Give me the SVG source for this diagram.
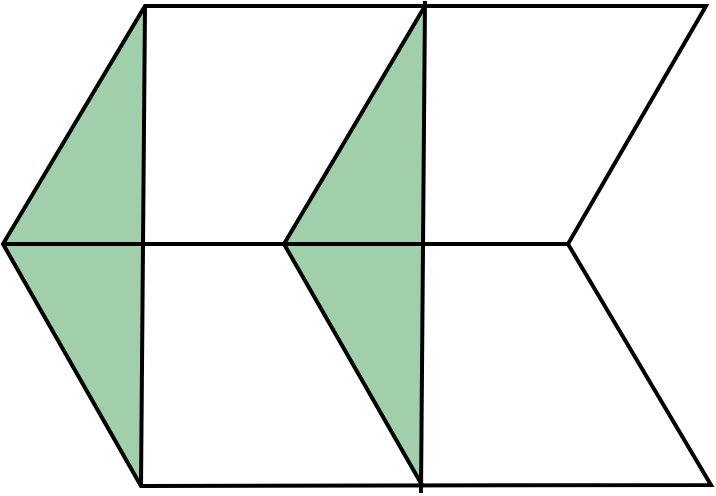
<svg xmlns="http://www.w3.org/2000/svg" width="716" height="496" viewBox="0 0 716 496">
<style>
.fill{fill:#a1cfab;stroke:none}
.ln{fill:none;stroke:#000;stroke-width:4;stroke-linejoin:miter;stroke-linecap:butt}
</style>
<rect width="716" height="496" fill="#fff"/>
<g id="green-left">
<polygon class="fill" points="3,244 145,6 141,486"/>
</g>
<g id="green-middle">
<polygon class="fill" points="284,244 425,6 422,485"/>
</g>
<g id="outline">
<polygon class="ln" points="3,244 145,6 706,6 568,244 711,485 141,486"/>
<line class="ln" x1="3" y1="244" x2="568" y2="244"/>
<line class="ln" x1="145" y1="6" x2="141" y2="486"/>
<line class="ln" x1="425" y1="1" x2="421" y2="493"/>
<polyline class="ln" points="425,6 284,244 422,485"/>
</g>
</svg>
